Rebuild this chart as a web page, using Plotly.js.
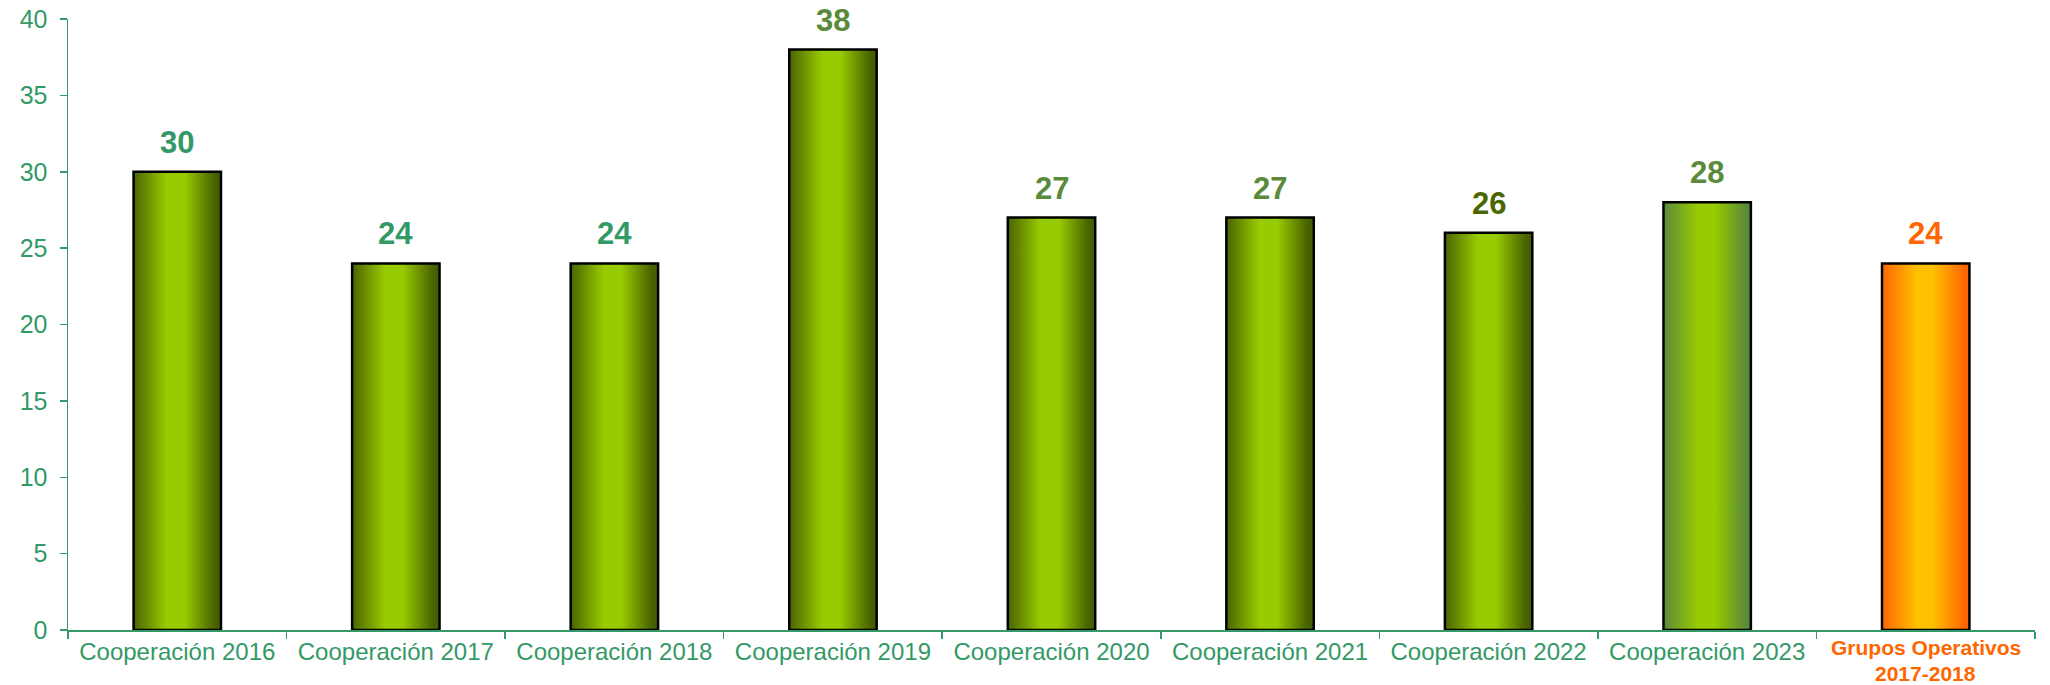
<!DOCTYPE html>
<html>
<head>
<meta charset="utf-8">
<script src="https://cdn.plot.ly/plotly-3.0.1.min.js"></script>
<style>html,body{margin:0;padding:0;background:#fff;}#chart{width:2050px;height:685px;}</style>
</head>
<body>
<div id="chart"></div>
<script>
// ---- data ----
const categories = ["Cooperación 2016","Cooperación 2017","Cooperación 2018","Cooperación 2019","Cooperación 2020","Cooperación 2021","Cooperación 2022","Cooperación 2023","Grupos Operativos 2017-2018"];
const tickLabels = ["Cooperación 2016","Cooperación 2017","Cooperación 2018","Cooperación 2019","Cooperación 2020","Cooperación 2021","Cooperación 2022","Cooperación 2023",""];
const lastLabelLines = ["Grupos Operativos", "2017-2018"];
const values = [30, 24, 24, 38, 27, 27, 26, 28, 24];
const labelColors = ["#339966","#339966","#339966","#5A8A3A","#5A8A3A","#5A8A3A","#4A6600","#5A8A3A","#FF6600"];
const barStyle = ["g","g","g","g","g","g","g","m","o"];
const yTicks = [0,5,10,15,20,25,30,35,40];

// ---- styles ----
const gradients = {
  g: [[0,"#4a6400"],[0.38,"#99cc00"],[0.58,"#99cc00"],[0.92,"#4a6400"],[1,"#435a00"]],
  m: [[0,"#5a8a3a"],[0.4,"#99cc00"],[0.58,"#99cc00"],[0.95,"#5a8a3a"],[1,"#558535"]],
  o: [[0,"#ff6600"],[0.4,"#ffc000"],[0.58,"#ffc000"],[0.95,"#ff6600"],[1,"#ff6600"]]
};
const solid = {g:"#88b400", m:"#88b820", o:"#ffa000"};
const axisGreen = "#339966";
const fam = "Liberation Sans, Arial, sans-serif";

const trace = {
  type: "bar",
  x: categories,
  y: values,
  marker: {
    color: barStyle.map(s => solid[s]),
    line: {color: "#000000", width: 2.5}
  },
  hoverinfo: "none"
};

const annotations = categories.map((c, i) => ({
  x: c, y: values[i], xref: "x", yref: "y",
  text: "<b>" + values[i] + "</b>",
  showarrow: false, yanchor: "bottom", yshift: 10,
  font: {family: fam, size: 31, color: labelColors[i]}
}));
const lineShifts = [-4, -30];
lastLabelLines.forEach((t, k) => annotations.push({
  x: categories[categories.length - 1], y: 0, xref: "x", yref: "paper",
  text: "<b>" + t + "</b>",
  showarrow: false, yanchor: "top", yshift: lineShifts[k],
  font: {family: fam, size: 21, color: "#FF6600"}
}));

const layout = {
  width: 2050, height: 685,
  margin: {l: 68, r: 15, t: 19, b: 55},
  paper_bgcolor: "#ffffff", plot_bgcolor: "#ffffff",
  showlegend: false,
  bargap: 0.6,
  font: {family: fam, size: 24, color: axisGreen},
  xaxis: {
    type: "category",
    tickmode: "array", tickvals: categories, ticktext: tickLabels,
    showline: true, linecolor: axisGreen, linewidth: 1.5,
    ticks: "outside", tickson: "boundaries", ticklen: 7, tickcolor: axisGreen, tickwidth: 1.5,
    showgrid: false, zeroline: false,
    tickfont: {size: 24, color: axisGreen},
    fixedrange: true
  },
  yaxis: {
    range: [0, 40], tickvals: yTicks,
    showline: true, linecolor: axisGreen, linewidth: 1.5,
    ticks: "outside", ticklen: 7, tickcolor: axisGreen, tickwidth: 1.5,
    showgrid: false, zeroline: false,
    ticklabelstandoff: 7,
    tickfont: {size: 25, color: axisGreen},
    fixedrange: true
  },
  annotations: annotations
};

function applyGradients(gd) {
  const svg = gd.querySelector(".main-svg");
  let defs = svg.querySelector("defs");
  if (!defs) { defs = document.createElementNS("http://www.w3.org/2000/svg", "defs"); svg.insertBefore(defs, svg.firstChild); }
  Object.keys(gradients).forEach(k => {
    const lg = document.createElementNS("http://www.w3.org/2000/svg", "linearGradient");
    lg.setAttribute("id", "bargrad-" + k);
    lg.setAttribute("x1", "0"); lg.setAttribute("y1", "0");
    lg.setAttribute("x2", "1"); lg.setAttribute("y2", "0");
    gradients[k].forEach(([off, col]) => {
      const st = document.createElementNS("http://www.w3.org/2000/svg", "stop");
      st.setAttribute("offset", off);
      st.setAttribute("stop-color", col);
      lg.appendChild(st);
    });
    defs.appendChild(lg);
  });
  const paths = gd.querySelectorAll(".barlayer .trace .point path");
  paths.forEach((p, i) => { p.style.fill = "url(#bargrad-" + barStyle[i] + ")"; });
}

Plotly.newPlot("chart", [trace], layout, {displayModeBar: false, staticPlot: true}).then(applyGradients);
</script>
</body>
</html>
